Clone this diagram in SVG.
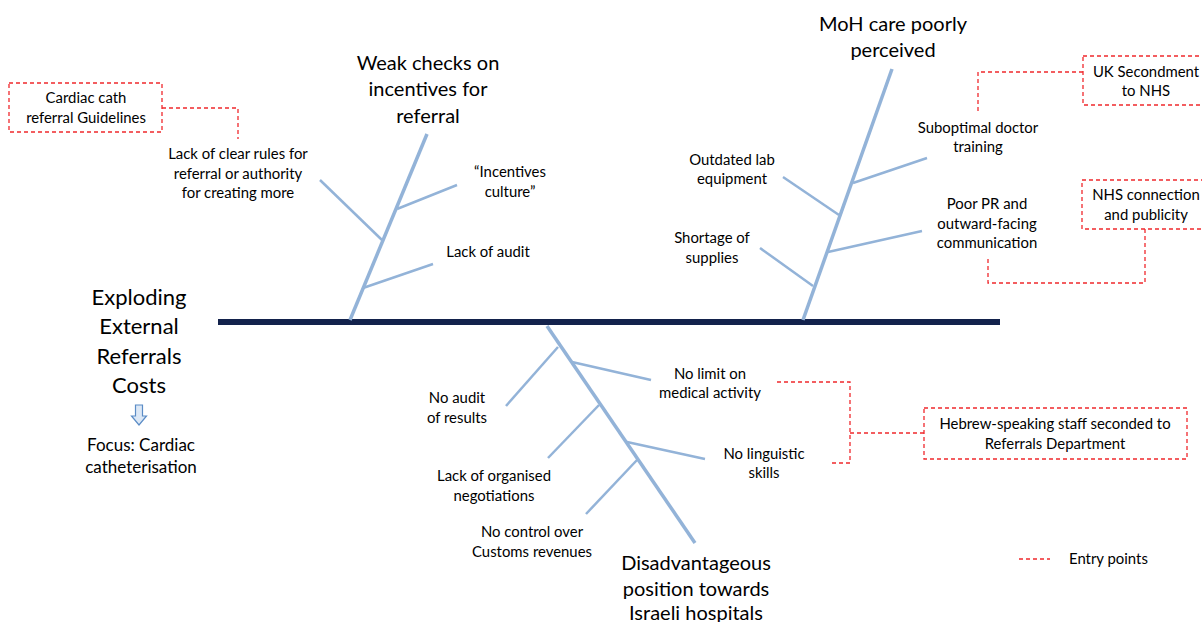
<svg xmlns="http://www.w3.org/2000/svg" width="1202" height="622" viewBox="0 0 1202 622">
<style>
text{font-family:Lato,"Liberation Sans",sans-serif;fill:#000;text-anchor:middle}
.s{font-size:14.9px}
.t{font-size:20px}
.h{font-size:22px}
.f{font-size:17px}
.br{stroke:#93b3d8;stroke-width:3.5;fill:none;stroke-linecap:butt}
.sb{stroke:#93b3d8;stroke-width:2.5;fill:none}
.d{stroke:#f0282d;stroke-width:1.3;stroke-dasharray:4 3;fill:none}
.db{stroke:#f0282d;stroke-width:1.3;stroke-dasharray:4 3;fill:#fff}
</style>
<rect width="1202" height="622" fill="#fff"/>
<g id="connectors">
<line x1="218" y1="322" x2="1000" y2="322" stroke="#13224c" stroke-width="6"/>
<line class="br" x1="350" y1="320" x2="427" y2="134"/>
<line class="sb" x1="320" y1="180" x2="382" y2="240"/>
<line class="sb" x1="397" y1="209" x2="457" y2="185"/>
<line class="sb" x1="363" y1="288" x2="433" y2="264"/>
<line class="br" x1="803" y1="320" x2="892" y2="69"/>
<line class="sb" x1="783" y1="177" x2="839" y2="215"/>
<line class="sb" x1="760" y1="248" x2="813" y2="286"/>
<line class="sb" x1="853" y1="183" x2="927" y2="158"/>
<line class="sb" x1="828" y1="252" x2="922" y2="231"/>
<line class="br" x1="547" y1="326" x2="695" y2="543"/>
<line class="sb" x1="558" y1="347" x2="506" y2="406"/>
<line class="sb" x1="572" y1="362" x2="651" y2="380"/>
<line class="sb" x1="599" y1="405" x2="548" y2="458"/>
<line class="sb" x1="627" y1="442" x2="705" y2="459"/>
<line class="sb" x1="637" y1="460" x2="586" y2="514"/>
<polyline class="d" points="162,108 238,108 238,139"/>
<polyline class="d" points="1083,72 978,72 978,113"/>
<polyline class="d" points="1145,229 1145,283 988,283 988,258"/>
<polyline class="d" points="777,382 850,382 850,463 831,463"/>
<line class="d" x1="850" y1="433" x2="924" y2="433"/>
</g>
<g id="head">
<text class="h" x="139" y="305">Exploding</text>
<text class="h" x="139" y="334">External</text>
<text class="h" x="139" y="364">Referrals</text>
<text class="h" x="139" y="393">Costs</text>
<polygon points="135.5,405 142.5,405 142.5,416 146.5,416 139,425 131.5,416 135.5,416" fill="#dce8f6" stroke="#5b8cc6" stroke-width="1.2"/>
<text class="f" x="141" y="451">Focus: Cardiac</text>
<text class="f" x="141" y="473">catheterisation</text>
</g>
<g id="cat-weak-checks">
<text class="t" x="428" y="70">Weak checks on</text>
<text class="t" x="428" y="96">incentives for</text>
<text class="t" x="428" y="123">referral</text>
</g>
<g id="cause-clear-rules">
<text class="s" x="238" y="159">Lack of clear rules for</text>
<text class="s" x="238" y="179">referral or authority</text>
<text class="s" x="238" y="198">for creating more</text>
</g>
<g id="cause-incentives-culture">
<text class="s" x="510" y="177">“Incentives</text>
<text class="s" x="510" y="197">culture”</text>
</g>
<g id="cause-lack-audit">
<text class="s" x="488" y="257">Lack of audit</text>
</g>
<g id="entry-guidelines">
<rect class="db" x="9" y="83" width="153" height="49"/>
<text class="s" x="86" y="103">Cardiac cath</text>
<text class="s" x="86" y="123">referral Guidelines</text>
</g>
<g id="cat-moh">
<text class="t" x="893" y="31">MoH care poorly</text>
<text class="t" x="893" y="57">perceived</text>
</g>
<g id="cause-outdated">
<text class="s" x="732" y="165">Outdated lab</text>
<text class="s" x="732" y="184">equipment</text>
</g>
<g id="cause-shortage">
<text class="s" x="712" y="243">Shortage of</text>
<text class="s" x="712" y="263">supplies</text>
</g>
<g id="cause-suboptimal">
<text class="s" x="978" y="133">Suboptimal doctor</text>
<text class="s" x="978" y="152">training</text>
</g>
<g id="cause-poor-pr">
<text class="s" x="987" y="209">Poor PR and</text>
<text class="s" x="987" y="229">outward-facing</text>
<text class="s" x="987" y="248">communication</text>
</g>
<g id="entry-uk-secondment">
<rect class="db" x="1083" y="56" width="125" height="49"/>
<text class="s" x="1146" y="77">UK Secondment</text>
<text class="s" x="1146" y="96">to NHS</text>
</g>
<g id="entry-nhs-connection">
<rect class="db" x="1082" y="180" width="126" height="49"/>
<text class="s" x="1146" y="200">NHS connection</text>
<text class="s" x="1146" y="220">and publicity</text>
</g>
<g id="cat-disadvantageous">
<text class="t" x="696" y="570">Disadvantageous</text>
<text class="t" x="696" y="596">position towards</text>
<text class="t" x="696" y="620">Israeli hospitals</text>
</g>
<g id="cause-no-limit">
<text class="s" x="710" y="379">No limit on</text>
<text class="s" x="710" y="398">medical activity</text>
</g>
<g id="cause-no-audit-results">
<text class="s" x="457" y="403">No audit</text>
<text class="s" x="457" y="423">of results</text>
</g>
<g id="cause-negotiations">
<text class="s" x="494" y="481">Lack of organised</text>
<text class="s" x="494" y="501">negotiations</text>
</g>
<g id="cause-customs">
<text class="s" x="532" y="537">No control over</text>
<text class="s" x="532" y="557">Customs revenues</text>
</g>
<g id="cause-linguistic">
<text class="s" x="764" y="459">No linguistic</text>
<text class="s" x="764" y="478">skills</text>
</g>
<g id="entry-hebrew-staff">
<rect class="db" x="924" y="408" width="263" height="51"/>
<text class="s" x="1055" y="429">Hebrew-speaking staff seconded to</text>
<text class="s" x="1055" y="449">Referrals Department</text>
</g>
<g id="legend">
<line class="d" x1="1019" y1="559" x2="1050" y2="559"/>
<text class="s" x="1069" y="564" style="text-anchor:start">Entry points</text>
</g>
</svg>
